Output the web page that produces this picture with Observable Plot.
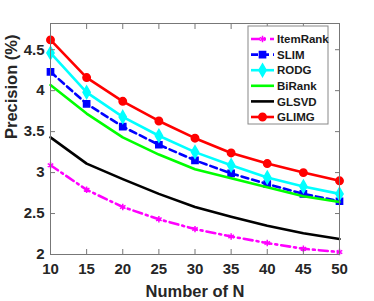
<!DOCTYPE html>
<html><head><meta charset="utf-8">
<script src="https://cdn.jsdelivr.net/npm/d3@7"></script>
<script src="https://cdn.jsdelivr.net/npm/@observablehq/plot@0.6"></script>
<style>body{margin:0;background:#fff}</style>
</head><body><div id="chart"></div>
<script>
const N = [10,15,20,25,30,35,40,45,50];
const itemRank = [3.09,2.79,2.58,2.43,2.31,2.22,2.14,2.07,2.03];
const slim     = [4.23,3.84,3.56,3.34,3.15,2.99,2.86,2.74,2.65];
const rodg     = [4.46,3.98,3.68,3.45,3.25,3.09,2.94,2.83,2.74];
const biRank   = [4.07,3.72,3.43,3.22,3.04,2.93,2.82,2.71,2.64];
const glsvd    = [3.43,3.11,2.92,2.74,2.58,2.46,2.35,2.26,2.19];
const glimg    = [4.62,4.16,3.87,3.63,3.42,3.24,3.11,3.00,2.90];
const xTicks = [10,15,20,25,30,35,40,45,50];
const yTicks = [2,2.5,3,3.5,4,4.5];

const series = [
  {name:"ItemRank", values:itemRank, color:"#ff00ff", dash:"9,4,2,4", symbol:"asterisk", r:3},
  {name:"SLIM", values:slim, color:"#0000ff", dash:"7,4", symbol:"square", r:3.5},
  {name:"RODG", values:rodg, color:"#00ffff", dash:null, symbol:"diamond", r:3.8},
  {name:"BiRank", values:biRank, color:"#00ff00", dash:null, symbol:null, r:0},
  {name:"GLSVD", values:glsvd, color:"#000000", dash:null, symbol:null, r:0},
  {name:"GLIMG", values:glimg, color:"#ff0000", dash:null, symbol:"circle", r:3.7}
];

const marks = [];
for (const s of series) {
  const data = N.map((n,i)=>({n, v:s.values[i]}));
  marks.push(Plot.line(data, {x:"n", y:"v", stroke:s.color, strokeWidth:2.6, strokeDasharray:s.dash}));
  if (s.symbol) marks.push(Plot.dot(data, {x:"n", y:"v", symbol:s.symbol, r:s.r, fill:s.color, stroke:s.color, strokeWidth:1.5}));
}

const font = "'Liberation Sans', Arial, Helvetica, sans-serif";
const chart = Plot.plot({
  width:374, height:301,
  marginLeft:50, marginRight:35, marginTop:23, marginBottom:47,
  style:{fontFamily:font, fontWeight:"bold", fontSize:"15px", color:"#262626", background:"#fff"},
  x:{domain:[10,50]},
  y:{domain:[2,4.82]},
  marks:[
    ...marks,
    Plot.frame({stroke:"#777", strokeWidth:1}),
    Plot.axisX({ticks:xTicks, anchor:"bottom", tickSize:-5, tickPadding:14, stroke:"#777", fontSize:15, label:null, tickFormat:d=>d}),
    Plot.axisX({ticks:xTicks, anchor:"top", tickSize:-5, stroke:"#777", label:null, tickFormat:()=>""}),
    Plot.axisY({ticks:yTicks, anchor:"left", tickSize:-5, tickPadding:11, stroke:"#777", fontSize:15, label:null, tickFormat:d=>String(d)}),
    Plot.axisY({ticks:yTicks, anchor:"right", tickSize:-5, stroke:"#777", label:null, tickFormat:()=>""}),
    Plot.text(["Number of N"], {frameAnchor:"bottom", dy:42, lineAnchor:"bottom", fontSize:16.5, fontWeight:"bold", fill:"#262626"}),
    Plot.text(["Precision (%)"], {frameAnchor:"left", dx:-39, rotate:-90, fontSize:16.5, fontWeight:"bold", fill:"#262626"})
  ]
});
document.getElementById("chart").appendChild(chart);

// legend
const svg = d3.select(chart);
const lg = svg.append("g").attr("transform","translate(248,26)");
lg.append("rect").attr("width",80).attr("height",98).attr("fill","#fff").attr("stroke","#888").attr("stroke-width",1);
series.forEach((s,i)=>{
  const y = 13 + i*15.6;
  lg.append("line").attr("x1",3).attr("x2",26).attr("y1",y).attr("y2",y)
    .attr("stroke",s.color).attr("stroke-width",2.6).attr("stroke-dasharray",s.dash);
  if (s.symbol) {
    const sym = {circle:d3.symbolCircle, square:d3.symbolSquare, diamond:d3.symbolDiamond, asterisk:d3.symbolAsterisk}[s.symbol];
    lg.append("path").attr("d", d3.symbol(sym, Math.PI*s.r*s.r)()).attr("transform",`translate(14.5,${y})`)
      .attr("fill",s.color).attr("stroke",s.color).attr("stroke-width",1.5);
  }
  lg.append("text").attr("x",29).attr("y",y).attr("dy","0.36em").attr("font-size",11.5)
    .attr("text-anchor","start")
    .attr("font-weight","bold").attr("font-family",font).attr("fill","#1a1a1a").text(s.name);
});
</script></body></html>
